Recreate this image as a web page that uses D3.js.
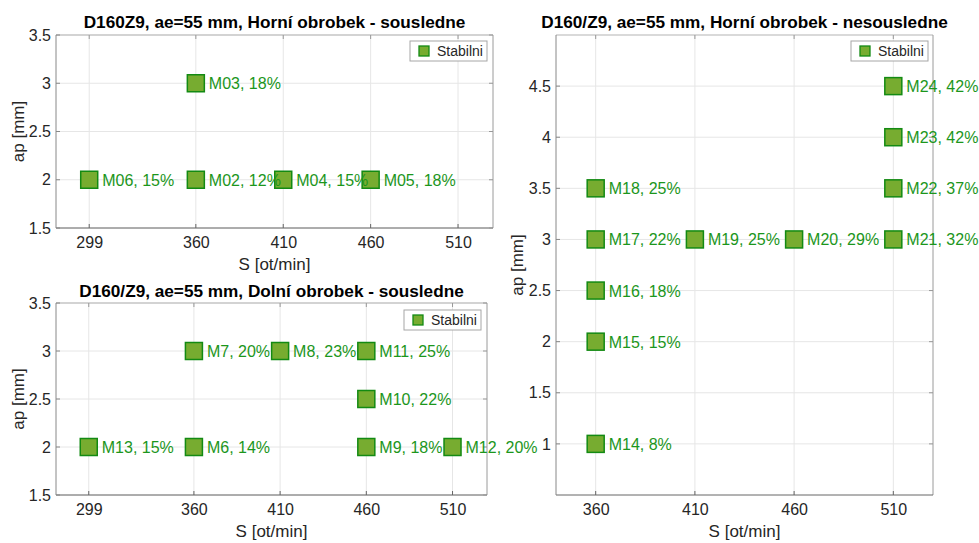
<!DOCTYPE html>
<html>
<head>
<meta charset="utf-8">
<script src="https://cdn.jsdelivr.net/npm/d3@7"></script>
<style>
  html, body { margin: 0; padding: 0; background: #fff; }
  svg { display: block; font-family: "Liberation Sans", Arial, Helvetica, sans-serif; }
</style>
</head>
<body>
<svg id="chart" width="979" height="543"></svg>
<script>
// Horní obrobek - sousledne
const topNames = ["M06", "M02", "M04", "M05", "M03"];
const topS     = [299, 360, 410, 460, 360];
const topAp    = [2, 2, 2, 2, 3];
const topPct   = [15, 12, 15, 18, 18];

// Dolní obrobek - sousledne
const botNames = ["M13", "M6", "M9", "M12", "M10", "M7", "M8", "M11"];
const botS     = [299, 360, 460, 510, 460, 360, 410, 460];
const botAp    = [2, 2, 2, 2, 2.5, 3, 3, 3];
const botPct   = [15, 14, 18, 20, 22, 20, 23, 25];

// Horní obrobek - nesousledne
const rightNames = ["M14", "M15", "M16", "M17", "M18", "M19", "M20", "M21", "M22", "M23", "M24"];
const rightS     = [360, 360, 360, 360, 360, 410, 460, 510, 510, 510, 510];
const rightAp    = [1, 2, 2.5, 3, 3.5, 3, 3, 3, 3.5, 4, 4.5];
const rightPct   = [8, 15, 18, 22, 25, 25, 29, 32, 37, 42, 42];

const sTicksLeft  = [299, 360, 410, 460, 510];
const sTicksRight = [360, 410, 460, 510];
const apTicksLeft  = [1.5, 2, 2.5, 3, 3.5];
const apTicksRight = [1, 1.5, 2, 2.5, 3, 3.5, 4, 4.5];
const legendLabel = "Stabilni";

const FILL = "#77ac30", EDGE = "#138a13", LABEL = "#1c961c", TEXT = "#262626";

const svg = d3.select("#chart");

function panel(cfg) {
  const g = svg.append("g");
  const x = d3.scaleLinear().domain(cfg.xDomain).range([cfg.x0, cfg.x1]);
  const y = d3.scaleLinear().domain(cfg.yDomain).range([cfg.y1, cfg.y0]);

  // grid
  g.append("g").selectAll("line").data(cfg.xTicks).join("line")
    .attr("x1", d => x(d)).attr("x2", d => x(d))
    .attr("y1", cfg.y0).attr("y2", cfg.y1)
    .attr("stroke", "#e6e6e6").attr("stroke-width", 1);
  g.append("g").selectAll("line").data(cfg.yTicks).join("line")
    .attr("x1", cfg.x0).attr("x2", cfg.x1)
    .attr("y1", d => y(d)).attr("y2", d => y(d))
    .attr("stroke", "#e6e6e6").attr("stroke-width", 1);

  // box: top and right
  g.append("line").attr("x1", cfg.x0).attr("x2", cfg.x1).attr("y1", cfg.y0).attr("y2", cfg.y0)
    .attr("stroke", "#b3b3b3");
  g.append("line").attr("x1", cfg.x1).attr("x2", cfg.x1).attr("y1", cfg.y0).attr("y2", cfg.y1)
    .attr("stroke", "#9a9a9a");

  // bottom axis
  const xAxis = d3.axisBottom(x).tickValues(cfg.xTicks).tickSize(0).tickPadding(9).tickFormat(d3.format("d"));
  const gx = g.append("g").attr("transform", `translate(0,${cfg.y1})`).call(xAxis);
  gx.select(".domain").remove();
  gx.selectAll("text").attr("fill", TEXT).style("font-size", "16px")
    .style("font-family", "'Liberation Sans', Arial, sans-serif");
  g.append("line").attr("x1", cfg.x0).attr("x2", cfg.x1).attr("y1", cfg.y1).attr("y2", cfg.y1)
    .attr("stroke", "#666");
  g.append("g").selectAll("line").data(cfg.xTicks).join("line")
    .attr("x1", d => x(d)).attr("x2", d => x(d)).attr("y1", cfg.y1).attr("y2", cfg.y1 - 4)
    .attr("stroke", "#666");
  g.append("g").selectAll("line").data(cfg.xTicks).join("line")
    .attr("x1", d => x(d)).attr("x2", d => x(d)).attr("y1", cfg.y0).attr("y2", cfg.y0 + 4)
    .attr("stroke", "#999");

  // left axis
  const yAxis = d3.axisLeft(y).tickValues(cfg.yTicks).tickSize(0).tickPadding(5).tickFormat(d3.format("~g"));
  const gy = g.append("g").attr("transform", `translate(${cfg.x0},0)`).call(yAxis);
  gy.select(".domain").remove();
  gy.selectAll("text").attr("fill", TEXT).style("font-size", "16px")
    .style("font-family", "'Liberation Sans', Arial, sans-serif");
  g.append("line").attr("x1", cfg.x0).attr("x2", cfg.x0).attr("y1", cfg.y0).attr("y2", cfg.y1)
    .attr("stroke", "#888");
  g.append("g").selectAll("line").data(cfg.yTicks).join("line")
    .attr("x1", cfg.x0).attr("x2", cfg.x0 + 4).attr("y1", d => y(d)).attr("y2", d => y(d))
    .attr("stroke", "#888");
  g.append("g").selectAll("line").data(cfg.yTicks).join("line")
    .attr("x1", cfg.x1).attr("x2", cfg.x1 - 4).attr("y1", d => y(d)).attr("y2", d => y(d))
    .attr("stroke", "#999");

  // title
  g.append("text").attr("x", (cfg.x0 + cfg.x1) / 2).attr("y", cfg.titleY)
    .attr("text-anchor", "middle").attr("fill", "#000")
    .style("font-size", "17.2px").style("font-weight", "bold").text(cfg.title);

  // axis labels
  g.append("text").attr("x", (cfg.x0 + cfg.x1) / 2).attr("y", cfg.y1 + 42)
    .attr("text-anchor", "middle").attr("fill", TEXT).style("font-size", "17px").text("S [ot/min]");
  g.append("text")
    .attr("transform", `translate(${cfg.yLabelX},${(cfg.y0 + cfg.y1) / 2}) rotate(-90)`)
    .attr("text-anchor", "middle").attr("fill", TEXT).style("font-size", "17px").text("ap [mm]");

  // points
  const data = cfg.names.map((n, i) => ({ n, s: cfg.s[i], ap: cfg.ap[i], p: cfg.pct[i] }));
  const sz = 17;
  g.append("g").selectAll("rect").data(data).join("rect")
    .attr("x", d => x(d.s) - sz / 2).attr("y", d => y(d.ap) - sz / 2)
    .attr("width", sz).attr("height", sz)
    .attr("fill", FILL).attr("stroke", EDGE).attr("stroke-width", 1.5);
  g.append("g").selectAll("text").data(data).join("text")
    .attr("x", d => x(d.s) + 13).attr("y", d => y(d.ap) + 6)
    .attr("fill", LABEL).style("font-size", "16px")
    .text(d => `${d.n}, ${d.p}%`);

  // legend
  const L = cfg.legend;
  g.append("rect").attr("x", L.x).attr("y", L.y).attr("width", L.w).attr("height", 20)
    .attr("fill", "#fff").attr("stroke", "#a6a6a6").attr("stroke-width", 1);
  g.append("rect").attr("x", L.x + 9).attr("y", L.y + 5).attr("width", 10).attr("height", 10)
    .attr("fill", FILL).attr("stroke", EDGE).attr("stroke-width", 1.3);
  g.append("text").attr("x", L.x + 27).attr("y", L.y + 15).attr("fill", TEXT)
    .style("font-size", "14px").text(legendLabel);
}

panel({
  x0: 56, x1: 493, y0: 35, y1: 228,
  xDomain: [280, 530], yDomain: [1.5, 3.5],
  xTicks: sTicksLeft, yTicks: apTicksLeft,
  title: "D160Z9, ae=55 mm, Horní obrobek - sousledne", titleY: 28, yLabelX: 24,
  names: topNames, s: topS, ap: topAp, pct: topPct,
  legend: { x: 410, y: 41, w: 77 }
});

panel({
  x0: 56, x1: 487, y0: 303, y1: 495,
  xDomain: [280, 530], yDomain: [1.5, 3.5],
  xTicks: sTicksLeft, yTicks: apTicksLeft,
  title: "D160/Z9, ae=55 mm, Dolní obrobek - sousledne", titleY: 297, yLabelX: 24,
  names: botNames, s: botS, ap: botAp, pct: botPct,
  legend: { x: 404, y: 310, w: 77 }
});

panel({
  x0: 556, x1: 933, y0: 35, y1: 495,
  xDomain: [340, 530], yDomain: [0.5, 5],
  xTicks: sTicksRight, yTicks: apTicksRight,
  title: "D160/Z9, ae=55 mm, Horní obrobek - nesousledne", titleY: 28, yLabelX: 523,
  names: rightNames, s: rightS, ap: rightAp, pct: rightPct,
  legend: { x: 851, y: 41, w: 77 }
});
</script>
</body>
</html>
